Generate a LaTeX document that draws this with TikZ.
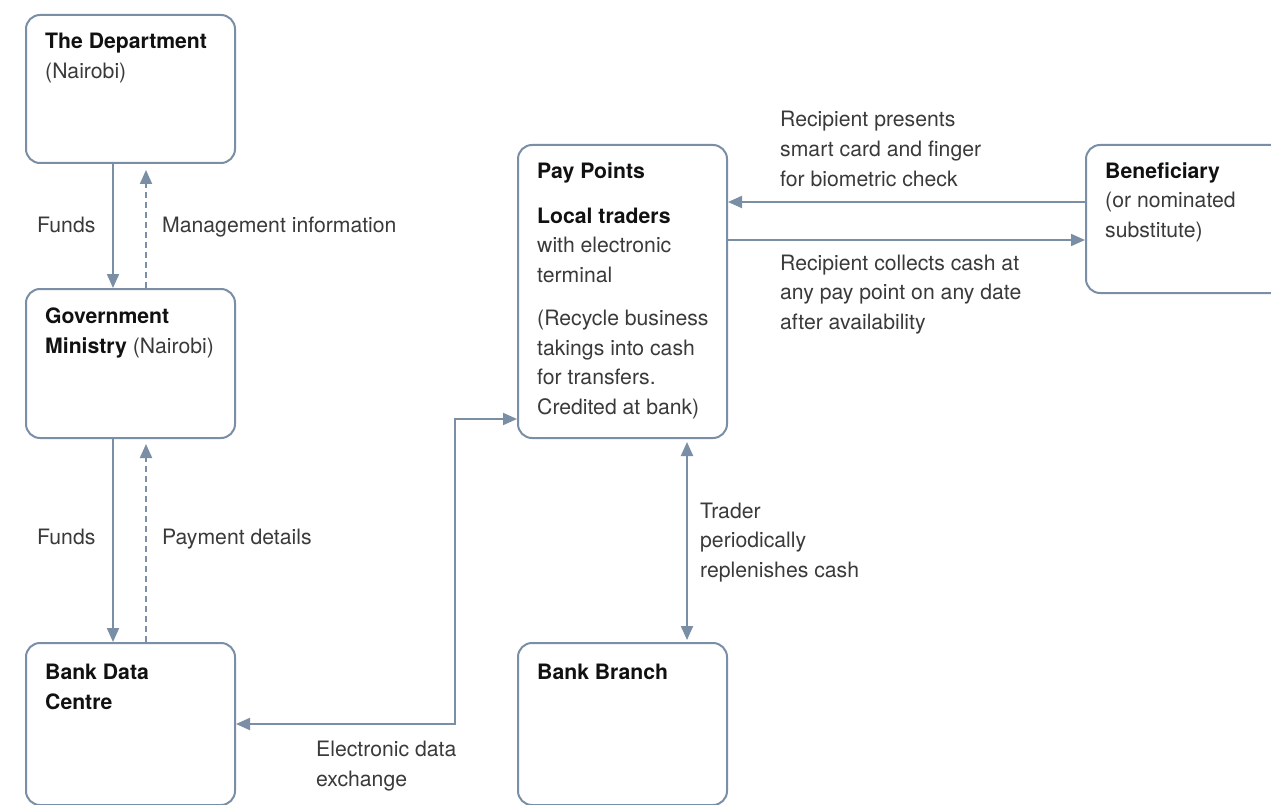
\documentclass[tikz,border=0pt]{standalone}
\usepackage{fontspec}
\setmainfont{TeX Gyre Heros}
\usetikzlibrary{arrows.meta}
\definecolor{edge}{HTML}{7A8EA6}
\definecolor{ink}{HTML}{3A3A3A}
\definecolor{inkbold}{HTML}{111111}
\tikzset{
  box/.style={draw=edge, line width=2pt, rounded corners=14pt, anchor=north west,
    minimum width=209pt, inner sep=0pt, fill=white},
  % multi-line texts are placed by the baseline of their last line
  txt/.style={anchor=base west, inner sep=0pt, align=left, text=ink,
    font=\fontsize{21.2}{29.5}\selectfont},
  hd/.style={txt, text=inkbold, font=\fontsize{21.2}{29.5}\selectfont\bfseries},
  tip/.tip={Triangle[length=14pt,width=12pt]},
  flow/.style={draw=edge, line width=2pt, -tip},
  twoway/.style={draw=edge, line width=2pt, tip-tip},
  info/.style={flow, dash pattern=on 6pt off 4pt},
}
\begin{document}
\begin{tikzpicture}[x=1pt,y=-1pt]
\useasboundingbox (0,0) rectangle (1271,805);
\fill[white] (0,0) rectangle (1271,805);
\begin{scope}
  \clip (0,0) rectangle (1271,805);
  % boxes
  \node[box, minimum height=148pt] (dept)   at (25,14)   {};
  \node[box, minimum height=149pt] (gov)    at (25,288)  {};
  \node[box, minimum height=162pt] (bdc)    at (25,642)  {};
  \node[box, minimum height=293pt] (pp)     at (517,144) {};
  \node[box, minimum height=162pt] (branch) at (517,642) {};
  \node[box, minimum height=148pt] (ben)    at (1085,144) {};

  % flows between the Nairobi offices and the bank
  \draw[flow] ([xshift=-17.5pt]dept.south) -- ([xshift=-17.5pt]gov.north);
  \draw[info] ([xshift=15.5pt]gov.north) -- ([xshift=15.5pt,yshift=-6pt]dept.south);
  \draw[flow] ([xshift=-17.5pt]gov.south) -- ([xshift=-17.5pt]bdc.north);
  \draw[info] ([xshift=15.5pt]bdc.north) -- ([xshift=15.5pt,yshift=-5pt]gov.south);

  % electronic data exchange
  \draw[twoway] (bdc.east) -| ([xshift=-62pt,yshift=20pt]pp.south west)
                -- ([yshift=20pt]pp.south west);

  % cash replenishment
  \draw[twoway] ([xshift=64.5pt,yshift=-3pt]pp.south) -- ([xshift=64.5pt,yshift=2pt]branch.north);

  % beneficiary and pay point
  \coordinate (b1) at ([yshift=17pt]ben.west);
  \coordinate (b2) at ([yshift=-21pt]ben.west);
  \draw[flow] (b1) -- (b1 -| pp.east);
  \draw[flow] (b2 -| pp.east) -- (b2);
\end{scope}

% box texts
\node[hd]  (deptT) at (45,49)  {The Department};
\node[txt] (deptS) at (45,79)  {(Nairobi)};
\node[hd]  (govT)  at (45,323) {Government};
\node[txt] (govS)  at (45,353) {\textcolor{inkbold}{\bfseries Ministry} (Nairobi)};
\node[hd]  (bdcT)  at (45,709) {Bank Data\\Centre};
\node[hd]  (ppT)   at (537,179) {Pay Points};
\node[hd]  (ltT)   at (537,223) {Local traders};
\node[txt] (ltS)   at (537,282) {with electronic\\terminal};
\node[txt] (rcy)   at (537,414) {(Recycle business\\takings into cash\\for transfers.\\Credited at bank)};
\node[hd]  (bbT)   at (537,679) {Bank Branch};
\node[hd]  (benT)  at (1105,179) {Beneficiary};
\node[txt] (benS)  at (1105,237) {(or nominated\\substitute)};

% connector labels
\node[txt] (f1)  at (37,233)  {Funds};
\node[txt] (mi)  at (162,233) {Management information};
\node[txt] (f2)  at (37,544)  {Funds};
\node[txt] (pd)  at (162,544) {Payment details};
\node[txt] (ede) at (316,786) {Electronic data\\exchange};
\node[txt] (tr)  at (700,577) {Trader\\periodically\\replenishes cash};
\node[txt] (rp)  at (780,186) {Recipient presents\\smart card and finger\\for biometric check};
\node[txt] (rcc) at (780,329) {Recipient collects cash at\\any pay point on any date\\after availability};
\end{tikzpicture}
\end{document}
